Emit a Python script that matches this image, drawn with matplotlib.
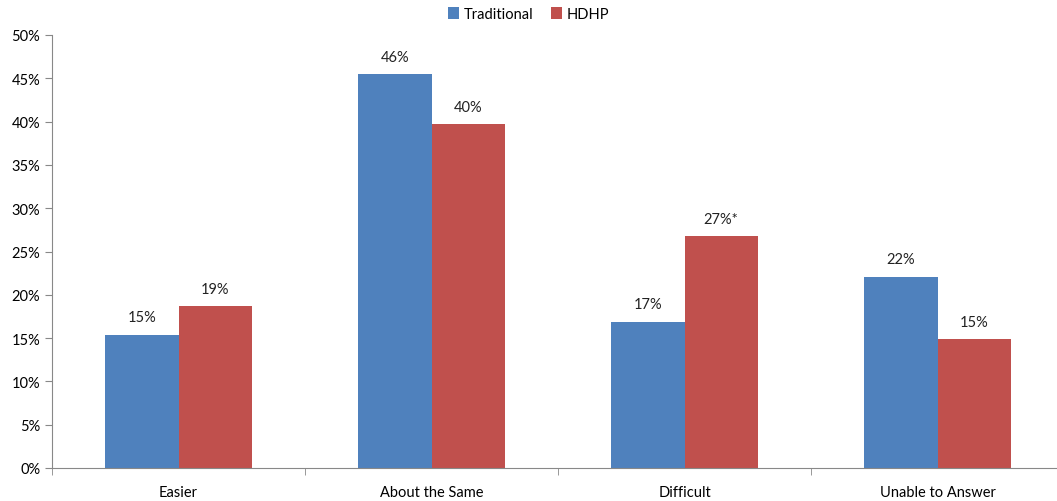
import matplotlib.pyplot as plt
import numpy as np

plt.rcParams['font.family'] = ['Lato', 'DejaVu Sans']

categories = ["Easier", "About the Same", "Difficult", "Unable to Answer"]
traditional = [15.4, 45.5, 16.9, 22.1]
hdhp = [18.7, 39.7, 26.8, 14.9]
trad_labels = ["15%", "46%", "17%", "22%"]
hdhp_labels = ["19%", "40%", "27%*", "15%"]

W, H = 1057, 502
fig = plt.figure(figsize=(W / 100, H / 100), dpi=100)
ax = fig.add_axes([52 / W, 33 / H, (1064 - 52) / W, (469 - 36) / H])

x = np.arange(len(categories))
bw = 0.29
b1 = ax.bar(x - bw / 2, traditional, bw, color="#4f81bd", label="Traditional")
b2 = ax.bar(x + bw / 2, hdhp, bw, color="#c0504d", label="HDHP")

fs = 10.5
for bars, labels in [(b1, trad_labels), (b2, hdhp_labels)]:
    for b, lab in zip(bars, labels):
        ax.text(b.get_x() + b.get_width() / 2, b.get_height() + 1.2, lab,
                ha="center", va="bottom", fontsize=fs, color="#222222")

ax.set_ylim(0, 50)
ax.set_xlim(-0.5, len(categories) - 0.5)
ax.set_yticks(range(0, 51, 5))
ax.set_yticklabels([f"{v}%" for v in range(0, 51, 5)], fontsize=fs)
ax.set_xticks(x)
ax.set_xticklabels(categories, fontsize=fs)
ax.set_xticks(np.arange(-0.5, len(categories), 1), minor=True)
ax.tick_params(axis="x", which="major", length=0, pad=12)
ax.tick_params(axis="x", which="minor", length=5, color="#888888", direction="out")
ax.tick_params(axis="y", length=5, color="#888888", direction="out")

for s in ["top", "right"]:
    ax.spines[s].set_visible(False)
for s in ["left", "bottom"]:
    ax.spines[s].set_color("#888888")

fig.legend(loc="center", bbox_to_anchor=(0.5, 1 - 15 / H), ncol=2, frameon=False,
           fontsize=fs, handlelength=0.8, handleheight=0.8, handletextpad=0.3,
           columnspacing=1.2)

fig.savefig("out.png", dpi=100)
